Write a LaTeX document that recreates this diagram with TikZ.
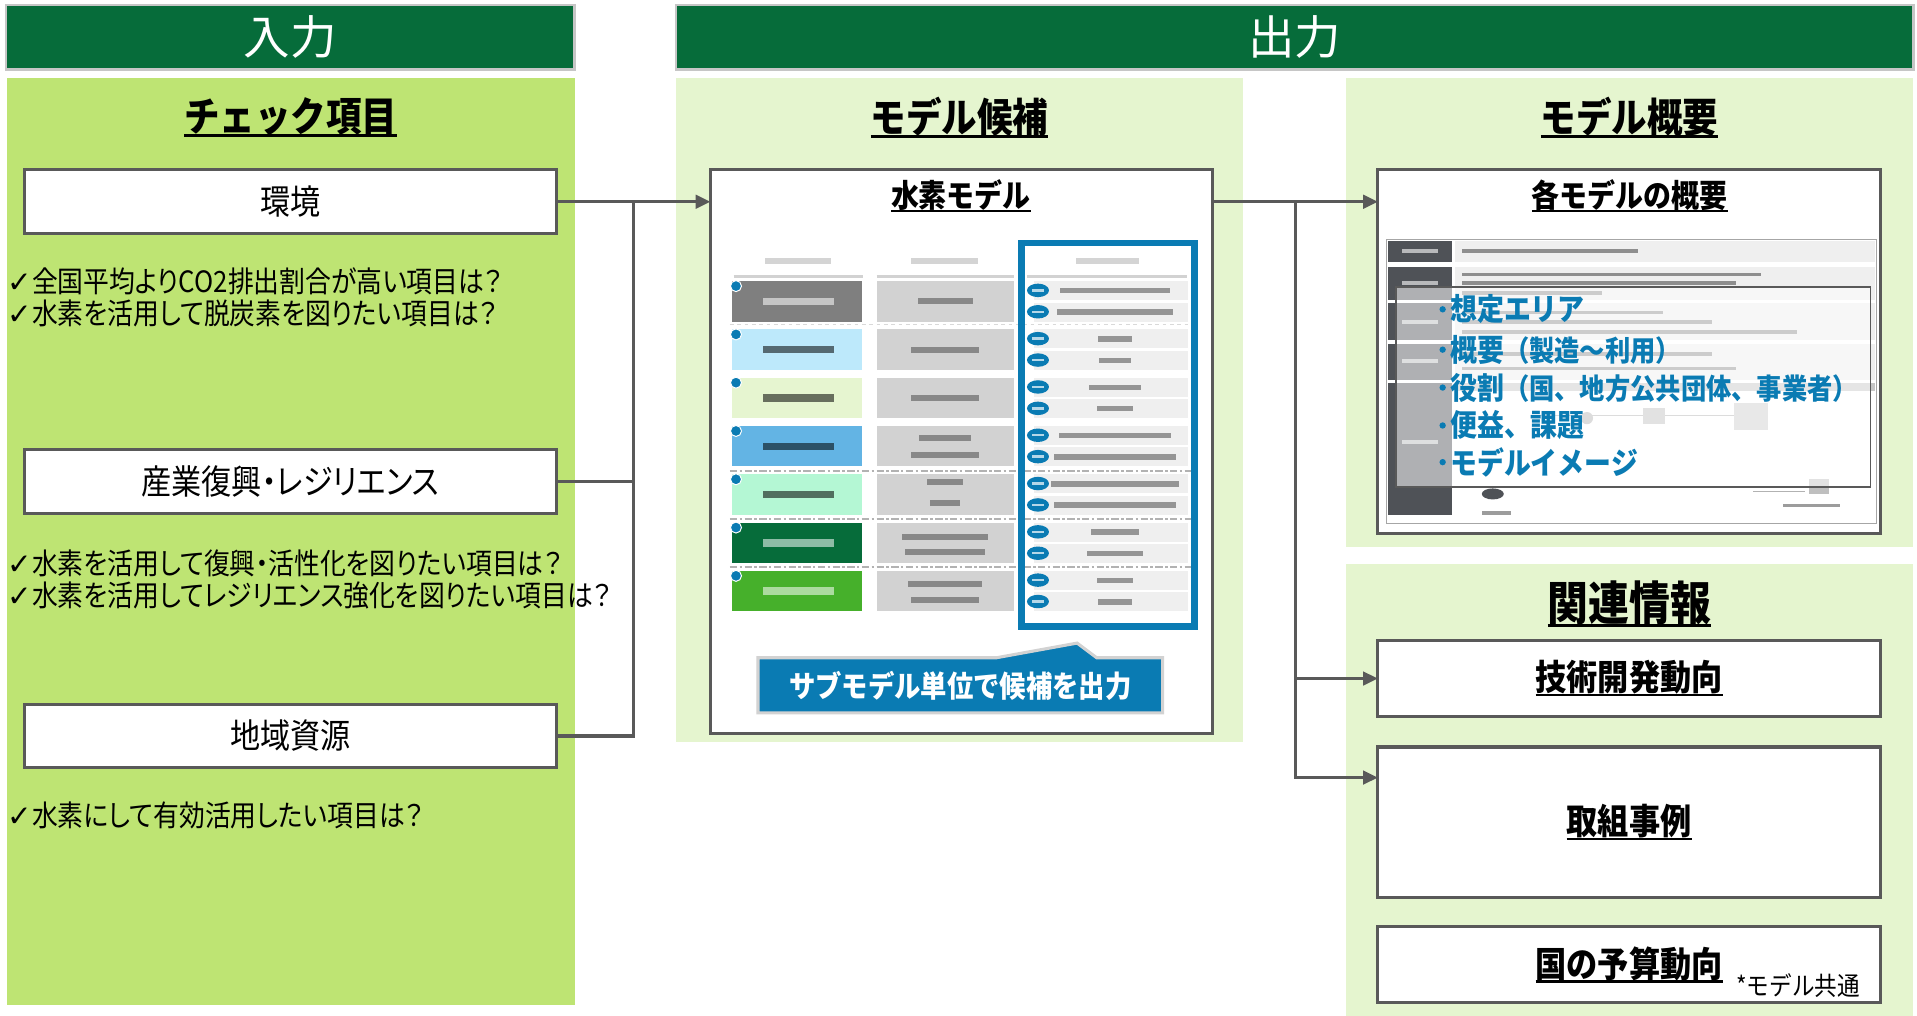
\documentclass[tikz,border=0pt]{standalone}
\usepackage{fontspec}
\setmainfont{Noto Sans CJK JP}[FakeStretch=0.88]
\newfontfamily\hdrfont{Noto Sans CJK JP}
\newfontfamily\pfont{Noto Sans CJK JP}[FakeStretch=0.88, RawFeature=+palt]
\newfontfamily\symfont{DejaVu Sans}
\usetikzlibrary{arrows.meta,calc}

\definecolor{dgreen}{HTML}{066C3A}
\definecolor{lgreen}{HTML}{BEE473}
\definecolor{pgreen}{HTML}{E5F5CF}
\definecolor{lineg}{HTML}{595959}
\definecolor{hblue}{HTML}{0A7BB3}
\definecolor{subg}{HTML}{EFEFEF}
\definecolor{cellg}{HTML}{D2D2D2}
\definecolor{thdark}{HTML}{4F5257}
\definecolor{cA}{HTML}{7F7F7F}
\definecolor{cB}{HTML}{BDE9FB}
\definecolor{cC}{HTML}{E6F5D0}
\definecolor{cD}{HTML}{63B4E4}
\definecolor{cE}{HTML}{B4F7D4}
\definecolor{cF}{HTML}{066C3A}
\definecolor{cG}{HTML}{46B02B}

\newcommand\fs[1]{\fontsize{#1}{#1}\selectfont}
\newcommand\ulin[3]{\sbox0{#1}\rlap{\rule[-#3]{\wd0}{#2}}\usebox0}

\begin{document}
\begin{tikzpicture}[x=1pt,y=-1pt,
  box/.style={draw=lineg, line width=2.5pt, fill=white, inner sep=0pt, outer sep=0pt},
  hdr/.style={fill=dgreen, draw=gray!45, line width=2pt, inner sep=0pt, text=white, minimum height=53pt},
  panel/.style={inner sep=0pt, outer sep=0pt},
  conn/.style={draw=lineg, line width=2.5pt},
  arr/.style={-{Triangle[length=12pt,width=11pt]}},
  ttl/.style={inner sep=0pt},
  qtext/.style={anchor=west, inner sep=0pt},
  btext/.style={anchor=west, inner sep=0pt, text=hblue},
  blur/.style={opacity=.55}
]
\useasboundingbox (0,0) rectangle (1568,831);
\fill[white] (0,0) rectangle (1568,831);

% ---------- headers ----------
\node[hdr, minimum width=465pt] (inhdr) at (237.5,30.5) {\hdrfont\fs{38}入力};
\node[hdr, minimum width=1012pt] (outhdr) at (1059,30.5) {\hdrfont\fs{38}出力};

% ---------- panels ----------
\node[panel, fill=lgreen, minimum width=464pt, minimum height=758pt] (inpanel) at (238,443) {};
\node[panel, fill=pgreen, minimum width=464pt, minimum height=543pt] (midpanel) at (785,335.5) {};
\node[panel, fill=pgreen, minimum width=464pt, minimum height=383pt] (ovpanel) at (1333,255.5) {};
\node[panel, fill=pgreen, minimum width=464pt, minimum height=370pt] (relpanel) at (1333,646) {};

% ---------- left column ----------
\node[ttl] (tcheck) at (238,96) {\bfseries\fs{33}\ulin{チェック項目}{2.5pt}{4.5pt}};
\node[box, minimum width=435pt, minimum height=52pt] (env) at (237.5,165) {\pfont\fs{28}環境};
\node[box, minimum width=435pt, minimum height=52pt] (ind) at (237.5,394) {\pfont\fs{28}産業復興・レジリエンス};
\node[box, minimum width=435pt, minimum height=52pt] (reg) at (237.5,602) {\pfont\fs{28}地域資源};

\node[qtext] (q1) at (6,230) {\pfont\fs{24}{\symfont ✓}全国平均よりCO2排出割合が高い項目は？};
\node[qtext] (q2) at (6,256) {\pfont\fs{24}{\symfont ✓}水素を活用して脱炭素を図りたい項目は？};
\node[qtext] (q3) at (6,461) {\pfont\fs{24}{\symfont ✓}水素を活用して復興・活性化を図りたい項目は？};
\node[qtext] (q4) at (6,487) {\pfont\fs{24}{\symfont ✓}水素を活用してレジリエンス強化を図りたい項目は？};
\node[qtext] (q5) at (6,667) {\pfont\fs{24}{\symfont ✓}水素にして有効活用したい項目は？};

% ---------- middle column ----------
\node[ttl] (tcand) at (785,96) {\bfseries\fs{33}\ulin{モデル候補}{2.5pt}{4.5pt}};
\node[box, minimum width=411pt, minimum height=461pt] (hm) at (786.5,369.5) {};
\node[ttl] (thm) at (786,160) {\bfseries\fs{26}\ulin{水素モデル}{2pt}{4pt}};

% table headers
\fill[gray!60, blur] (626,211) rectangle (680,216);
\fill[gray!60, blur] (745,211) rectangle (800,216);
\fill[gray!60, blur] (880,211) rectangle (932,216);
\draw[gray!35, line width=2pt] (600,226) -- (706,226);
\draw[gray!35, line width=2pt] (717,226) -- (829,226);
\draw[gray!35, line width=2pt] (840,226) -- (971,226);

% table rows
\foreach \i/\fc/\tc in {0/cA/white,1/cB/black,2/cC/black,3/cD/black,4/cE/black,5/cF/white,6/cG/white} {
  \pgfmathsetmacro\yt{230+39.5*\i}
  \fill[\fc] (599,\yt) rectangle (705,\yt+33);
  \fill[\tc, blur] (624,\yt+13.5) rectangle (682,\yt+19.5);
  \fill[cellg] (717,\yt) rectangle (829,\yt+33);
  \filldraw[fill=hblue, draw=white, line width=.8pt] (602,\yt+4) circle (4.5);
  \fill[subg] (846,\yt) rectangle (972,\yt+15.5);
  \fill[subg] (846,\yt+17.5) rectangle (972,\yt+33);
  \fill[hblue] (849,\yt+7.5) ellipse [x radius=9, y radius=5.5];
  \fill[hblue] (849,\yt+25) ellipse [x radius=9, y radius=5.5];
  \fill[white, opacity=.7] (844,\yt+6.5) rectangle (854,\yt+8.5);
  \fill[white, opacity=.7] (844,\yt+24) rectangle (854,\yt+26);
}
% column 2 blurred text
\foreach \yy/\w in {244/45,283.5/55,323/55,356/42,392/30,437/70,475.5/60} {
  \fill[black!70, blur] (773-\w/2,\yy) rectangle (773+\w/2,\yy+5);
}
\foreach \yy/\w in {370/55,409/24,449/65,488.5/55} {
  \fill[black!70, blur] (773-\w/2,\yy) rectangle (773+\w/2,\yy+5);
}
% column 3 blurred text
\foreach \k/\w in {0/90,1/95,2/28,3/26,4/42,5/30,6/92,7/100,8/105,9/100,10/40,11/46,12/30,13/28} {
  \pgfmathsetmacro\yy{230+39.5*floor(\k/2)+mod(\k,2)*17.5+5.5}
  \fill[black!70, blur] (912-\w/2,\yy) rectangle (912+\w/2,\yy+4.5);
}
% separators
\draw[gray!30, line width=1.3pt, dashed] (597,265.5) -- (975,265.5);
\foreach \yy in {385,424.5,464} {
  \draw[gray!60, line width=1.5pt, dash pattern=on 6pt off 2pt on 2pt off 2pt] (597,\yy) -- (975,\yy);
}
% blue frame
\draw[hblue, line width=5.5pt] (835.75,198.75) rectangle (977.25,512.25);

% callout
\filldraw[fill=hblue, draw=gray!35, line width=2.5pt] (620,538) -- (815,538) -- (881,526) -- (897,538) -- (951,538) -- (951,583) -- (620,583) -- cycle;
\node[text=white, inner sep=0pt] (callout) at (785.5,561) {\bfseries\fs{24.5}サブモデル単位で候補を出力};

% ---------- right top ----------
\node[ttl] (tov) at (1333,96) {\bfseries\fs{33}\ulin{モデル概要}{2.5pt}{4.5pt}};
\node[box, minimum width=411pt, minimum height=297pt] (ovbox) at (1332.5,287.5) {};
\node[ttl] (tovb) at (1333,160) {\bfseries\fs{26}\ulin{各モデルの概要}{2pt}{4pt}};

% thumbnail
\draw[gray!70, line width=1pt, fill=white] (1134,196) rectangle (1535,428);
\foreach \a/\b in {197/214,218/245,248/278,281/311,313/421} {
  \fill[thdark] (1135,\a) rectangle (1188,\b);
}
\foreach \a/\b in {197/214,218/245,248/278,281/311} {
  \fill[subg] (1190,\a) rectangle (1534,\b);
}
\foreach \yy in {204,230,262,294,360} {
  \fill[white, opacity=.6] (1147,\yy) rectangle (1176,\yy+3);
}
\foreach \yy/\e in {204/1340,223/1440,230/1420,238/1310,254/1360,262/1400,270/1470,288/1400,300/1420} {
  \fill[black!75, blur] (1196,\yy) rectangle (\e,\yy+3);
}
\fill[gray!45] (1190,313) rectangle (1534,320);
\fill[thdark] (1221,404) ellipse [x radius=9, y radius=4.5];
\fill[black!70, blur] (1212,418) rectangle (1236,421);
\draw[gray!60, line width=1pt] (1260,340) -- (1420,340);
\fill[gray!60] (1298,342) circle (5);
\fill[gray!50] (1344,334) rectangle (1362,347);
\fill[gray!40] (1418,330) rectangle (1446,352);
\draw[gray!60, line width=1pt] (1434,402) -- (1476,402);
\fill[gray!50] (1480,392) rectangle (1496,404);
\fill[black!70, blur] (1458,412) rectangle (1505,415);
\draw[lineg, line width=1.5pt, fill=white, fill opacity=.55] (1142,235) rectangle (1530,398);

% bullets
\foreach \yy in {253,286,317,348,378} { \fill[hblue] (1180,\yy) circle (2.6); }
\node[btext] (b1) at (1186,253) {\bfseries\fs{25}想定エリア};
\node[btext] (b2) at (1186,286) {\bfseries\fs{25}概要\fs{23.5}（製造〜利用）};
\node[btext] (b3) at (1186,317) {\bfseries\fs{25}役割\fs{23.5}（国、地方公共団体、事業者）};
\node[btext] (b4) at (1186,348) {\bfseries\fs{25}便益、課題};
\node[btext] (b5) at (1186,378) {\bfseries\fs{25}モデルイメージ};

% ---------- right bottom ----------
\node[ttl] (trel) at (1333,494) {\bfseries\fs{38}\ulin{関連情報}{2.5pt}{5pt}};
\node[box, minimum width=411pt, minimum height=62pt] (tech) at (1332.5,555) {\bfseries\fs{29}\ulin{技術開発動向}{2pt}{4.5pt}};
\node[box, minimum width=411pt, minimum height=123pt] (case) at (1332.5,672.5) {\bfseries\fs{29}\ulin{取組事例}{2pt}{4.5pt}};
\node[box, minimum width=411pt, minimum height=62pt] (budget) at (1332.5,789) {\bfseries\fs{29}\ulin{国の予算動向}{2pt}{4.5pt}};
\node[anchor=west, inner sep=0pt] (note) at (1420,806) {\fs{21}*モデル共通};

% ---------- connectors ----------
\coordinate (jL) at (518,165);
\draw[conn,arr] (env.east) -- (env.east -| hm.west);
\draw[conn] (ind.east) -| (jL);
\draw[conn] (reg.east) -| (jL);

\coordinate (hmout) at ($(hm.north east)+(0,26)$);
\coordinate (jR) at (1060,165);
\draw[conn,arr] (hmout) -- (hmout -| ovbox.west);
\draw[conn,arr] (jR) |- (tech.west);
\coordinate (casein) at ($(case.north west)+(0,25)$);
\draw[conn,arr] (jR) |- (casein);
\end{tikzpicture}
\end{document}
